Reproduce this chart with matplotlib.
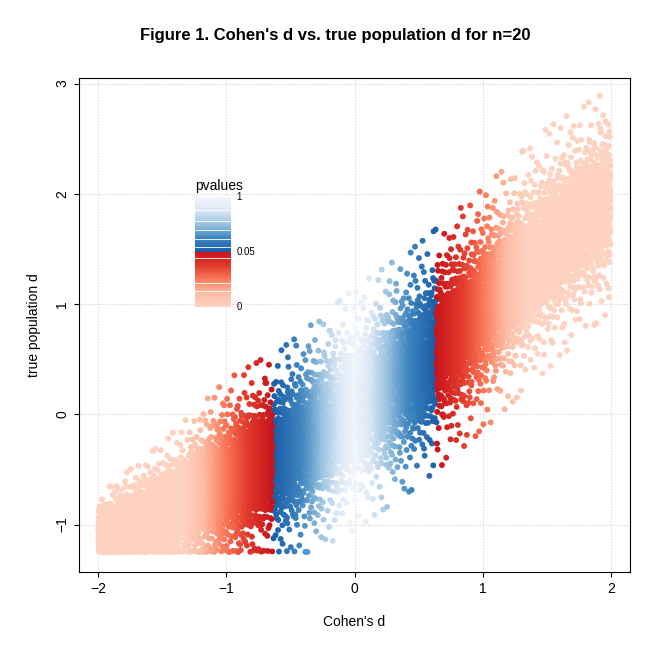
import numpy as np
import matplotlib.pyplot as plt
from matplotlib.colors import LinearSegmentedColormap

plt.rcParams['font.family'] = ['Liberation Sans', 'DejaVu Sans']

# centre line and half-width of the point cloud
env_x = [-2.0, -1.5, -1.0, -0.5, 0.0, 0.5, 1.0, 1.5, 2.0]
env_mid = [-1.1, -0.9, -0.6, -0.35, 0.05, 0.45, 0.95, 1.5, 1.95]
env_half = [0.2, 0.35, 0.5, 0.55, 0.6, 0.6, 0.6, 0.6, 0.55]
floor_d = -1.25
ceil_d = 2.9
n_per_group = 20
n_points = 9000
legend_ticks = ["1", "0.05", "0"]


def halton(i, base):
    f, r = 1.0, np.zeros_like(i, dtype=float)
    i = i.copy()
    while np.any(i > 0):
        f /= base
        r += f * (i % base)
        i //= base
    return r


idx = np.arange(1, n_points + 1)
ux, uy = halton(idx, 2), halton(idx, 3)
d_obs = -2 + 4 * ux
mid = np.interp(d_obs, env_x, env_mid)
half = np.interp(d_obs, env_x, env_half)
uy = np.clip(uy, 0.004, 0.996)
z = np.log(uy / (1 - uy)) * 0.33
d_true = mid + half * z
d_true = np.where(d_true < floor_d, floor_d + (floor_d - d_true) * 0.08, d_true)
d_true = np.minimum(d_true, ceil_d)

# two-sample t test p value
df = 2 * n_per_group - 2
t = np.abs(d_obs) * np.sqrt(n_per_group / 2)
grid = np.linspace(0, 12, 6001)
pdf = (1 + grid**2 / df) ** (-(df + 1) / 2)
cdf = np.concatenate([[0], np.cumsum((pdf[1:] + pdf[:-1]) / 2 * np.diff(grid))])
cdf /= cdf[-1]
p = 1 - np.interp(t, grid, cdf)

reds = LinearSegmentedColormap.from_list("r", ["#c8141b", "#e23a2c", "#fb7a5a", "#fcbca4", "#fdd2c0"])
blues = LinearSegmentedColormap.from_list("b", ["#1a5ea8", "#3f86c0", "#9ac3e0", "#dbe7f5", "#f3f6fc"])
cols = np.empty((n_points, 4))
sig = p < 0.05
cols[sig] = reds(np.clip(np.log10(0.05 / np.maximum(p[sig], 1e-12)) / 2.6, 0, 1))
cols[~sig] = blues(np.clip((p[~sig] - 0.05) / 0.95, 0, 1) ** 0.7)

fig = plt.figure(figsize=(6.71, 6.71), dpi=100)
ax = fig.add_axes([79 / 671, 1 - 572 / 671, 551 / 671, 494 / 671])
order = np.argsort(-p)
ax.scatter(d_obs[order], d_true[order], s=18, c=cols[order], linewidths=0)
ax.set_xlim(-2.15, 2.15)
ax.set_ylim(-1.43, 3.05)
ax.set_xticks([-2, -1, 0, 1, 2])
ax.set_yticks([-1, 0, 1, 2, 3])
ax.grid(True, linestyle=":", color="#d0d0d0")
ax.set_axisbelow(True)
for lab in ax.get_yticklabels():
    lab.set_rotation(90)
    lab.set_va("center")
ax.tick_params(labelsize=10)
ax.set_xlabel("Cohen's d", fontsize=10, labelpad=14)
ax.set_ylabel("true population d", fontsize=10, labelpad=10)
fig.suptitle("Figure 1. Cohen's d vs. true population d for n=20", fontsize=12,
             fontweight="bold", y=1 - 28 / 671)

# legend bar
lax = fig.add_axes([195 / 671, 1 - 307 / 671, 36 / 671, 110 / 671])
lvals = np.linspace(0, 1, 200)
for i in range(len(lvals) - 1):
    y0 = lvals[i]
    if y0 < 0.5:
        c = reds(1 - y0 / 0.5)
    else:
        c = blues((y0 - 0.5) / 0.5)
    lax.axhspan(y0, lvals[i + 1], color=c, lw=0)
for y in [0.15, 0.22, 0.45, 0.55, 0.62, 0.7, 0.78, 0.88]:
    lax.axhline(y, color="white", lw=0.6)
lax.set_xlim(0, 1)
lax.set_ylim(0, 1)
lax.axis("off")
for y, s in zip([1.0, 0.5, 0.0], legend_ticks):
    lax.text(1.15, y, s, fontsize=7, va="center", transform=lax.transAxes)
lax.text(0.0, 1.1, "pvalues", fontsize=10, va="center", transform=lax.transAxes)

fig.savefig("out.png", dpi=100)
